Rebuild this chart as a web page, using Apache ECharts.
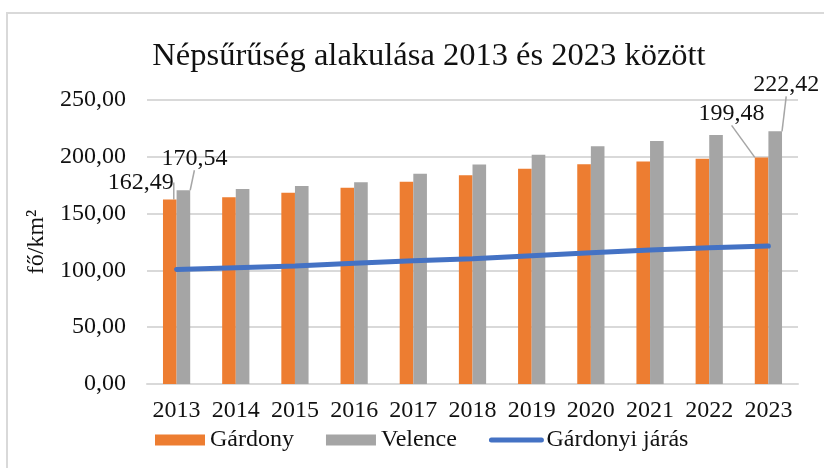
<!DOCTYPE html>
<html>
<head>
<meta charset="utf-8">
<script src="https://cdn.jsdelivr.net/npm/echarts@6/dist/echarts.min.js"></script>
<style>
  html, body { margin: 0; padding: 0; background: #fff; }
  #main { width: 824px; height: 468px; }
</style>
</head>
<body>
<div id="main"></div>
<script>
// data
var years = ['2013', '2014', '2015', '2016', '2017', '2018', '2019', '2020', '2021', '2022', '2023'];
var gardony = [162.49, 164.5, 168.3, 172.8, 178.0, 183.8, 189.4, 193.5, 195.9, 198.2, 199.48];
var velence = [170.54, 171.6, 174.2, 177.7, 185.1, 193.2, 201.8, 209.2, 213.9, 219.2, 222.42];
var jaras = [100.9, 102.4, 103.8, 106.2, 108.5, 110.3, 113.0, 115.6, 118.0, 120.0, 121.5];

var serif = '"Liberation Serif", "Times New Roman", serif';
var legendText = { fontFamily: serif, fontSize: 24, color: '#111' };

function fmt(v) {
    return v.toFixed(2).replace('.', ',');
}

// only first and last bars get a label
function labelled(values) {
    return values.map(function (v, i) {
        var show = i === 0 || i === values.length - 1;
        return { value: v, label: { show: show } };
    });
}

// label offsets (dx, dy) for first / last item
var offsG = { 0: [-29, 0], 10: [-30, -27] };
var offsV = { 0: [11, -15], 10: [11, -30] };

var chartDom = document.getElementById('main');
var myChart = echarts.init(chartDom);

var option = {
    backgroundColor: '#fff',
    animation: false,
    textStyle: { fontFamily: serif },
    graphic: [{
        type: 'rect',
        shape: { x: 7, y: 13, width: 900, height: 600 },
        style: { fill: 'none', stroke: '#d9d9d9', lineWidth: 2 },
        silent: true,
        z: -1
    }],
    title: {
        text: 'Népsűrűség alakulása 2013 és 2023 között',
        left: 424,
        textAlign: 'center',
        top: 35,
        textStyle: { fontFamily: serif, fontSize: 32.5, fontWeight: 'normal', color: '#111' }
    },
    legend: {
        left: 150,
        top: 423,
        itemWidth: 50,
        itemHeight: 11,
        itemGap: 32,
        textStyle: legendText,
        data: [
            { name: 'Gárdony', icon: 'rect', textStyle: legendText },
            { name: 'Velence', icon: 'rect', textStyle: legendText },
            {
                name: 'Gárdonyi járás',
                textStyle: legendText,
                itemStyle: { opacity: 0 },
                lineStyle: { color: '#4472C4', width: 5, cap: 'round' }
            }
        ]
    },
    grid: { left: 147, right: 26, top: 100, bottom: 84 },
    xAxis: {
        type: 'category',
        data: years,
        axisLine: { lineStyle: { color: '#d9d9d9', width: 2 } },
        axisTick: { show: false },
        axisLabel: { interval: 0, margin: 15, fontFamily: serif, fontSize: 24, color: '#111' }
    },
    yAxis: {
        type: 'value',
        min: 0,
        max: 250,
        interval: 50,
        name: 'fő/km²',
        nameLocation: 'middle',
        nameRotate: 90,
        nameGap: 81,
        nameTextStyle: { fontFamily: serif, fontSize: 24, color: '#111' },
        axisLine: { show: false },
        axisTick: { show: false },
        splitLine: { lineStyle: { color: '#d9d9d9', width: 2 } },
        axisLabel: {
            margin: 21,
            fontFamily: serif,
            fontSize: 24,
            color: '#111',
            formatter: function (v) { return fmt(v); }
        }
    },
    series: [{
        name: 'Gárdony',
        type: 'bar',
        data: labelled(gardony),
        barGap: '0%',
        barCategoryGap: '54%',
        itemStyle: { color: '#ED7D31' },
        label: {
            show: false,
            position: 'top',
            fontFamily: serif,
            fontSize: 24,
            color: '#111',
            formatter: function (p) { return fmt(p.value); }
        },
        labelLine: { show: true, lineStyle: { color: '#a6a6a6', width: 1.5 } },
        labelLayout: function (p) {
            var o = offsG[p.dataIndex];
            return o ? { dx: o[0], dy: o[1] } : {};
        }
    }, {
        name: 'Velence',
        type: 'bar',
        data: labelled(velence),
        itemStyle: { color: '#A5A5A5' },
        label: {
            show: false,
            position: 'top',
            fontFamily: serif,
            fontSize: 24,
            color: '#111',
            formatter: function (p) { return fmt(p.value); }
        },
        labelLine: { show: true, lineStyle: { color: '#a6a6a6', width: 1.5 } },
        labelLayout: function (p) {
            var o = offsV[p.dataIndex];
            return o ? { dx: o[0], dy: o[1] } : {};
        }
    }, {
        name: 'Gárdonyi járás',
        type: 'line',
        data: jaras,
        symbol: 'none',
        z: 5,
        lineStyle: { color: '#4472C4', width: 5, cap: 'round' },
        itemStyle: { color: '#4472C4' }
    }]
};

option && myChart.setOption(option);
</script>
</body>
</html>
